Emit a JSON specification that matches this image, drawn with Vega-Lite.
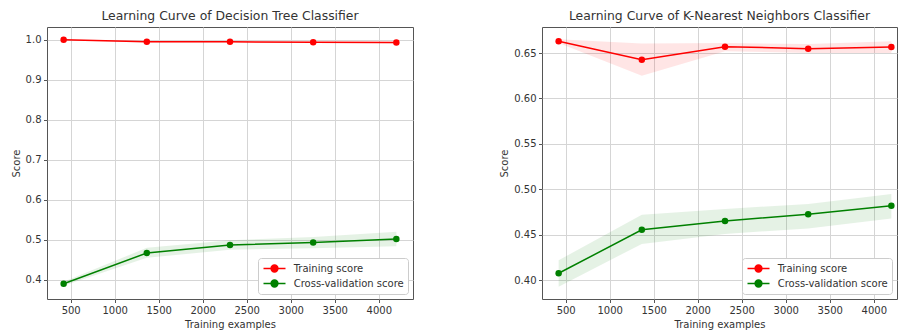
{
  "$schema": "https://vega.github.io/schema/vega-lite/v6.json",
  "padding": {"left": 10, "top": 9, "right": 0, "bottom": 0},
  "background": "white",
  "config": {
    "font": "DejaVu Sans",
    "view": {"stroke": "#555", "strokeWidth": 1},
    "axis": {
      "labelFont": "DejaVu Sans", "labelFontSize": 10, "labelColor": "#333",
      "titleFont": "DejaVu Sans", "titleFontSize": 10, "titleFontWeight": "normal", "titleColor": "#333",
      "gridColor": "#d5d5d5", "gridWidth": 1, "tickColor": "#555", "tickSize": 3.5,
      "domain": false, "labelPadding": 2.5, "titlePadding": 4
    },
    "legend": {
      "title": null, "orient": "bottom-right", "offset": 5,
      "symbolType": "M-2,0L2,0M-0.62,0A0.62,0.62 0 1,1 0.62,0A0.62,0.62 0 1,1 -0.62,0Z",
      "symbolSize": 121, "symbolOffset": 6, "labelOffset": 12.7,
      "labelFont": "DejaVu Sans", "labelFontSize": 10, "labelColor": "#333",
      "fillColor": "white", "strokeColor": "#cccccc", "cornerRadius": 3, "padding": 4, "rowPadding": 2,
      "symbolOpacity": 1, "symbolStrokeWidth": 1.5
    },
    "title": {"font": "DejaVu Sans", "fontSize": 12.4, "fontWeight": "normal", "color": "#333", "offset": 5}
  },
  "datasets": {
    "curves": [
      {"model": "dt", "series": "Training score", "size": 420, "mean": 1.000, "lo": 0.999, "hi": 1.001},
      {"model": "dt", "series": "Training score", "size": 1365, "mean": 0.995, "lo": 0.993, "hi": 0.997},
      {"model": "dt", "series": "Training score", "size": 2310, "mean": 0.995, "lo": 0.993, "hi": 0.997},
      {"model": "dt", "series": "Training score", "size": 3255, "mean": 0.994, "lo": 0.992, "hi": 0.996},
      {"model": "dt", "series": "Training score", "size": 4200, "mean": 0.993, "lo": 0.991, "hi": 0.995},
      {"model": "dt", "series": "Cross-validation score", "size": 420, "mean": 0.390, "lo": 0.385, "hi": 0.395},
      {"model": "dt", "series": "Cross-validation score", "size": 1365, "mean": 0.467, "lo": 0.455, "hi": 0.480},
      {"model": "dt", "series": "Cross-validation score", "size": 2310, "mean": 0.487, "lo": 0.475, "hi": 0.499},
      {"model": "dt", "series": "Cross-validation score", "size": 3255, "mean": 0.493, "lo": 0.479, "hi": 0.507},
      {"model": "dt", "series": "Cross-validation score", "size": 4200, "mean": 0.502, "lo": 0.484, "hi": 0.520},
      {"model": "knn", "series": "Training score", "size": 420, "mean": 0.663, "lo": 0.661, "hi": 0.665},
      {"model": "knn", "series": "Training score", "size": 1365, "mean": 0.6427, "lo": 0.625, "hi": 0.6605},
      {"model": "knn", "series": "Training score", "size": 2310, "mean": 0.657, "lo": 0.652, "hi": 0.661},
      {"model": "knn", "series": "Training score", "size": 3255, "mean": 0.6547, "lo": 0.650, "hi": 0.660},
      {"model": "knn", "series": "Training score", "size": 4200, "mean": 0.6565, "lo": 0.650, "hi": 0.663},
      {"model": "knn", "series": "Cross-validation score", "size": 420, "mean": 0.4077, "lo": 0.393, "hi": 0.422},
      {"model": "knn", "series": "Cross-validation score", "size": 1365, "mean": 0.4555, "lo": 0.440, "hi": 0.472},
      {"model": "knn", "series": "Cross-validation score", "size": 2310, "mean": 0.4653, "lo": 0.451, "hi": 0.4785},
      {"model": "knn", "series": "Cross-validation score", "size": 3255, "mean": 0.4726, "lo": 0.457, "hi": 0.484},
      {"model": "knn", "series": "Cross-validation score", "size": 4200, "mean": 0.482, "lo": 0.468, "hi": 0.495}
    ]
  },
  "spacing": 85,
  "resolve": {"scale": {"color": "shared"}, "legend": {"color": "independent"}},
  "hconcat": [
    {
      "title": "Learning Curve of Decision Tree Classifier",
      "width": 366,
      "height": 272,
      "data": {"name": "curves"},
      "transform": [{"filter": "datum.model == 'dt'"}],
      "encoding": {
        "x": {"field": "size", "type": "quantitative",
              "scale": {"domain": [231, 4389], "nice": false, "zero": false},
              "axis": {"values": [500, 1000, 1500, 2000, 2500, 3000, 3500, 4000], "format": "d", "title": "Training examples"}},
        "color": {"field": "series", "type": "nominal", "scale": {"domain": ["Training score", "Cross-validation score"], "range": ["#ff0000", "#008000"]},
                  "legend": {"encode": {"symbols": {"update": {"fill": {"scale": "color", "field": "value"}, "stroke": {"scale": "color", "field": "value"}, "strokeWidth": {"value": 1.5}, "opacity": {"value": 1}}}}}}
      },
      "layer": [
        {
          "mark": {"type": "area", "opacity": 0.1},
          "encoding": {
            "y": {"field": "lo", "type": "quantitative", "scale": {"domain": [0.352, 1.032], "nice": false, "zero": false},
                  "axis": {"values": [0.4, 0.5, 0.6, 0.7, 0.8, 0.9, 1.0], "format": ".1f", "title": "Score"}},
            "y2": {"field": "hi"}
          }
        },
        {
          "mark": {"type": "line", "strokeWidth": 1.5},
          "encoding": {
            "y": {"field": "mean", "type": "quantitative", "title": "Score"}
          }
        },
        {
          "mark": {"type": "point", "filled": true, "size": 42, "opacity": 1},
          "encoding": {
            "y": {"field": "mean", "type": "quantitative", "title": "Score"}
          }
        }
      ]
    },
    {
      "title": "Learning Curve of K-Nearest Neighbors Classifier",
      "width": 355,
      "height": 272,
      "data": {"name": "curves"},
      "transform": [{"filter": "datum.model == 'knn'"}],
      "encoding": {
        "x": {"field": "size", "type": "quantitative",
              "scale": {"domain": [231, 4264], "nice": false, "zero": false},
              "axis": {"values": [500, 1000, 1500, 2000, 2500, 3000, 3500, 4000], "format": "d", "title": "Training examples"}},
        "color": {"field": "series", "type": "nominal",
                  "legend": {"encode": {"symbols": {"update": {"fill": {"scale": "color", "field": "value"}, "stroke": {"scale": "color", "field": "value"}, "strokeWidth": {"value": 1.5}, "opacity": {"value": 1}}}}}}
      },
      "layer": [
        {
          "mark": {"type": "area", "opacity": 0.1},
          "encoding": {
            "y": {"field": "lo", "type": "quantitative", "scale": {"domain": [0.3794, 0.6786], "nice": false, "zero": false},
                  "axis": {"values": [0.40, 0.45, 0.50, 0.55, 0.60, 0.65], "format": ".2f", "title": "Score"}},
            "y2": {"field": "hi"}
          }
        },
        {
          "mark": {"type": "line", "strokeWidth": 1.5},
          "encoding": {
            "y": {"field": "mean", "type": "quantitative", "title": "Score"}
          }
        },
        {
          "mark": {"type": "point", "filled": true, "size": 42, "opacity": 1},
          "encoding": {
            "y": {"field": "mean", "type": "quantitative", "title": "Score"}
          }
        }
      ]
    }
  ]
}
